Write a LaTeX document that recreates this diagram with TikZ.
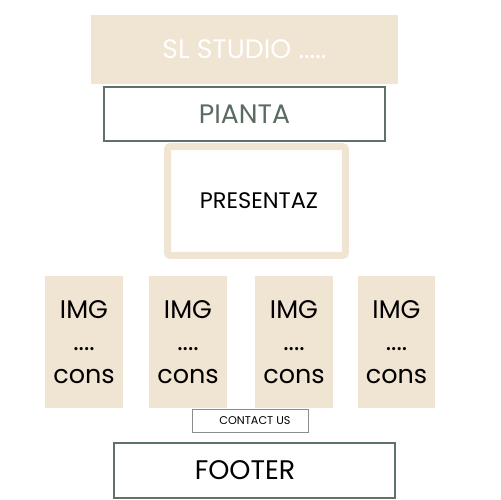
\documentclass[tikz,border=0pt]{standalone}
\usepackage{fontspec}
\setmainfont{Poppins}
\definecolor{sand}{HTML}{F0E4D2}
\definecolor{sage}{HTML}{5E7366}
\definecolor{sagetext}{HTML}{5A6B60}
\definecolor{greyline}{HTML}{8C8C8C}

\begin{document}
\begin{tikzpicture}[x=0.02cm,y=-0.02cm,card/.style={rectangle,fill=sand,minimum width=1.56cm,minimum height=2.64cm,align=center,font=\fontsize{14.5}{18.7}\selectfont},outlined/.style={rectangle,draw=sage,line width=0.04cm,minimum width=5.62cm,minimum height=1.10cm},inner sep=0pt]
    \useasboundingbox (0,0) rectangle (500,500);
    %header
    \node (head) at (244.5,49.5) [rectangle,fill=sand,minimum width=6.14cm,minimum height=1.38cm,text=white,font=\fontsize{15.2}{18}\selectfont]{SL STUDIO .....};
    \node (pianta) at (244.5,114) [outlined,text=sagetext,font=\fontsize{15.2}{18}\selectfont]{PIANTA};
    \node (pres) at (256.5,201) [rectangle,draw=sand,line width=0.14cm,rounded corners=0.06cm,minimum width=3.56cm,minimum height=2.18cm,font=\fontsize{12.8}{15}\selectfont]{\hspace*{0.1cm}PRESENTAZ};

    %image cards
    \node (img1) at (84,342) [card]{IMG\\....\\cons};
    \node (img2) at (188,342) [card]{IMG\\....\\cons};
    \node (img3) at (294,342) [card]{IMG\\....\\cons};
    \node (img4) at (396.5,342) [card]{IMG\\....\\cons};

    %bottom
    \node (contact) at (250,420.5) [rectangle,draw=greyline,line width=0.5pt,minimum width=2.32cm,minimum height=0.46cm,font=\fontsize{6.4}{8}\selectfont]{\hspace*{0.2cm}CONTACT US};
    \node (footer) at (254.5,470.5) [outlined,font=\fontsize{15.3}{18}\selectfont]{FOOTER\hspace*{0.38cm}};
\end{tikzpicture}
\end{document}
